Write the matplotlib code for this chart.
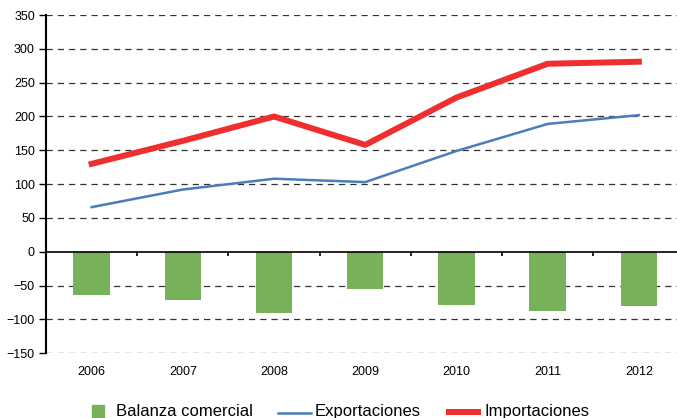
import matplotlib.pyplot as plt
from matplotlib.lines import Line2D
from matplotlib.patches import Rectangle

plt.rcParams['font.family'] = ['Liberation Sans', 'DejaVu Sans']

years = ['2006', '2007', '2008', '2009', '2010', '2011', '2012']
exportaciones = [66, 92, 108, 103, 149, 189, 202]
importaciones = [130, 164, 200, 158, 228, 278, 281]
balanza = [-64, -71, -91, -55, -78, -87, -80]

W, H = 677, 418
fig = plt.figure(figsize=(W / 100, H / 100), dpi=100)
ax = fig.add_axes([0.068, 0.155, 0.943, 0.809])

x = list(range(len(years)))

# grid lines
for v in range(-150, 351, 50):
    if v != 0:
        ax.axhline(v, color='#333333', linestyle=(0, (5, 4)), linewidth=0.9, zorder=0)

ax.bar(x, balanza, width=0.4, color='#78b15c', zorder=2)
ax.axhline(0, color='black', linewidth=1.2, zorder=3)
# small ticks on the zero line between categories
ax.vlines([i + 0.5 for i in x[:-1]], 0, -6, color='black', linewidth=1.2, zorder=3)

ax.plot(x, exportaciones, color='#4a7ebb', linewidth=1.8, zorder=4)
ax.plot(x, importaciones, color='#ee2e2f', linewidth=4.3, zorder=5)

ax.set_xlim(-0.5, 6.5)
ax.set_ylim(-150, 350)
ax.set_yticks(range(-150, 351, 50))
ax.set_xticks(x)
ax.set_xticklabels(years)
ax.tick_params(axis='x', length=0, pad=9, labelsize=9)
ax.tick_params(axis='y', length=5, width=1, labelsize=9, direction='out', pad=3)

for s in ['top', 'right', 'bottom']:
    ax.spines[s].set_visible(False)
ax.spines['left'].set_linewidth(1.5)

# legend, laid out by hand in pixel positions (partly cut off at the bottom)
def px(xp, yp):
    return xp / W, 1 - yp / H

fig.add_artist(Rectangle(px(92, 420), 12 / W, 15 / H, color='#78b15c',
                         transform=fig.transFigure))
fig.add_artist(Line2D([px(278, 0)[0], px(311, 0)[0]], [px(0, 412.5)[1]] * 2,
                      color='#4a7ebb', linewidth=1.8, transform=fig.transFigure))
fig.add_artist(Line2D([px(449, 0)[0], px(478, 0)[0]], [px(0, 412)[1]] * 2,
                      color='#ee2e2f', linewidth=4.3, transform=fig.transFigure))
labels = ['Balanza comercial', 'Exportaciones', 'Importaciones']
label_x = [116, 315, 484]
for lx, lab in zip(label_x, labels):
    xf, yf = px(lx, 416)
    fig.text(xf, yf, lab, fontsize=12, ha='left', va='baseline')

fig.savefig('out.png', dpi=100)
